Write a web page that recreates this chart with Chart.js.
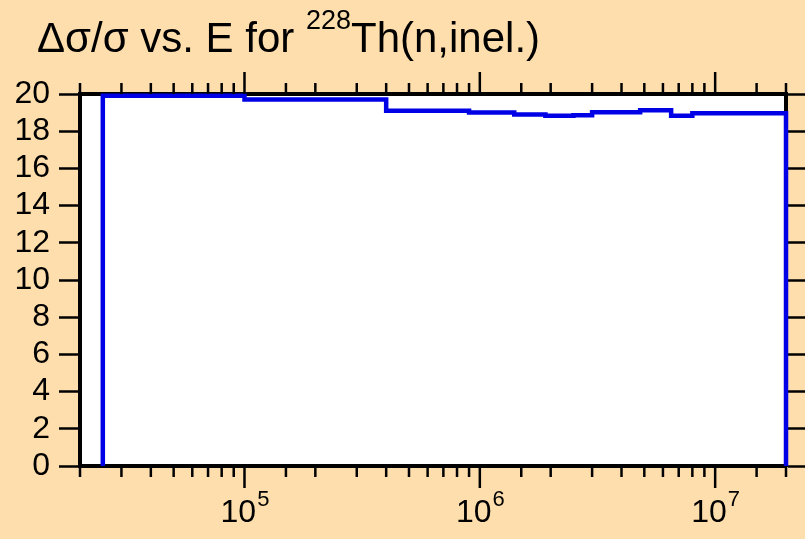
<!DOCTYPE html>
<html><head><meta charset="utf-8">
<script src="https://cdn.jsdelivr.net/npm/chart.js@4/dist/chart.umd.min.js"></script>
<style>
html,body{margin:0;padding:0;background:#ffdead;}
#wrap{position:relative;width:805px;height:539px;}
canvas{display:block;}
</style></head>
<body><div id="wrap"><canvas id="c" width="805" height="539"></canvas></div>
<script>
// ---- data ----
const titleMain = 'Δσ/σ vs. E for ';
const titleSup = '228';
const titleRest = 'Th(n,inel.)';
const binEdges = [2.5e4, 1e5, 4e5, 9e5, 1.4e6, 1.9e6, 2.5e6, 3e6, 4.8e6, 6.5e6, 8e6, 2e7];
const relUncertainty = [19.9, 19.7, 19.1, 19.0, 18.9, 18.83, 18.86, 19.02, 19.12, 18.83, 18.96];
const xMin = 2e4, xMax = 2e7;
const yMin = 0, yMax = 20, yStep = 2;
const xLabelBase = '10';

const FONT = "'Liberation Sans', Arial, sans-serif";

// step line points built from the bins
const pts = [{x: binEdges[0], y: 0}];
relUncertainty.forEach((v, i) => pts.push({x: binEdges[i], y: v}));
pts.push({x: binEdges[binEdges.length - 1], y: relUncertainty[relUncertainty.length - 1]});
pts.push({x: binEdges[binEdges.length - 1], y: 0});

const bgPlugin = {
  id: 'bg',
  beforeDraw(chart) {
    const {ctx, chartArea: a} = chart;
    ctx.save();
    ctx.fillStyle = '#ffdead';
    ctx.fillRect(0, 0, chart.width, chart.height);
    ctx.fillStyle = '#ffffff';
    ctx.fillRect(a.left, a.top, a.right - a.left, a.bottom - a.top);
    ctx.restore();
  }
};

const isMajor = v => { const e = Math.log10(v); return Math.abs(e - Math.round(e)) < 1e-9; };

const xAxisPlugin = {
  id: 'xaxis',
  afterDraw(chart) {
    const ctx = chart.ctx, a = chart.chartArea;
    const sb = chart.scales.x, st = chart.scales.xTop;
    ctx.save();
    ctx.strokeStyle = '#000';
    ctx.lineWidth = 2.5;
    sb.ticks.forEach(t => {
      const px = sb.getPixelForValue(t.value);
      const len = isMajor(t.value) ? 22 : 11;
      ctx.beginPath(); ctx.moveTo(px, a.bottom); ctx.lineTo(px, a.bottom + len); ctx.stroke();
    });
    st.ticks.forEach(t => {
      const px = st.getPixelForValue(t.value);
      const len = isMajor(t.value) ? 22 : 11;
      ctx.beginPath(); ctx.moveTo(px, a.top); ctx.lineTo(px, a.top - len); ctx.stroke();
    });
    // labels 10^n
    ctx.fillStyle = '#000';
    ctx.textBaseline = 'alphabetic';
    ctx.textAlign = 'left';
    sb.ticks.forEach(t => {
      if (!isMajor(t.value)) return;
      const px = sb.getPixelForValue(t.value);
      const exp = String(Math.round(Math.log10(t.value)));
      ctx.font = '32px ' + FONT;
      const w1 = ctx.measureText(xLabelBase).width;
      ctx.font = '22px ' + FONT;
      const w2 = ctx.measureText(exp).width;
      const x0 = px - (w1 + w2) / 2;
      ctx.font = '32px ' + FONT;
      ctx.fillText(xLabelBase, x0, 522);
      ctx.font = '22px ' + FONT;
      ctx.fillText(exp, x0 + w1 + 1, 506);
    });
    // title
    ctx.font = '42px ' + FONT;
    let x = 37;
    ctx.fillText(titleMain, x, 52);
    x += ctx.measureText(titleMain).width;
    ctx.font = '27px ' + FONT;
    ctx.fillText(titleSup, x, 29);
    x += ctx.measureText(titleSup).width;
    ctx.font = '42px ' + FONT;
    ctx.fillText(titleRest, x, 52);
    ctx.restore();
  }
};

new Chart(document.getElementById('c'), {
  type: 'line',
  data: {
    datasets: [{
      data: pts,
      stepped: 'before',
      borderColor: '#0000e6',
      borderWidth: 4.5,
      pointRadius: 0,
      fill: false,
      clip: 6,
      xAxisID: 'x',
      yAxisID: 'y'
    }]
  },
  options: {
    responsive: false,
    animation: false,
    devicePixelRatio: 1,
    layout: {padding: 0},
    plugins: {legend: {display: false}, title: {display: false}, tooltip: {enabled: false}},
    scales: {
      x: {
        type: 'logarithmic', position: 'bottom', min: xMin, max: xMax,
        ticks: {display: false},
        grid: {display: false},
        border: {display: true, width: 4, color: '#000'},
        afterFit(s) { s.height = 73; }
      },
      xTop: {
        type: 'logarithmic', position: 'top', min: xMin, max: xMax,
        ticks: {display: false},
        grid: {display: false},
        border: {display: true, width: 4, color: '#000'},
        afterFit(s) { s.height = 94; }
      },
      y: {
        type: 'linear', position: 'left', min: yMin, max: yMax,
        ticks: {stepSize: yStep, autoSkip: false, color: '#000', padding: 9, font: {family: FONT, size: 32}},
        grid: {drawOnChartArea: false, drawTicks: true, tickLength: 21, tickWidth: 2.5, tickColor: '#000'},
        border: {display: true, width: 4, color: '#000'},
        afterFit(s) { s.width = 80; }
      },
      yRight: {
        type: 'linear', position: 'right', min: yMin, max: yMax,
        ticks: {display: false, stepSize: yStep, autoSkip: false},
        grid: {drawOnChartArea: false, drawTicks: true, tickLength: 21, tickWidth: 2.5, tickColor: '#000'},
        border: {display: true, width: 4, color: '#000'},
        afterFit(s) { s.width = 19; }
      }
    }
  },
  plugins: [bgPlugin, xAxisPlugin]
});
</script>
</body></html>
